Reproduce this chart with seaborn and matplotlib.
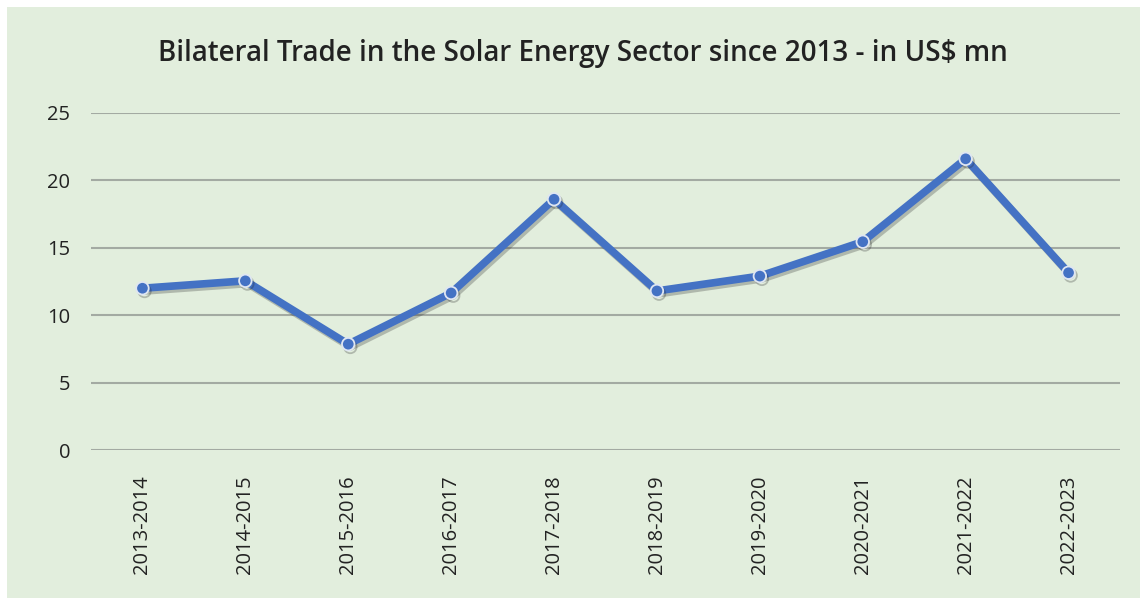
import numpy as np
import pandas as pd
import matplotlib.pyplot as plt
import matplotlib.patheffects as pe
from matplotlib.patches import Rectangle
import seaborn as sns

# data
years = ['2013-2014', '2014-2015', '2015-2016', '2016-2017', '2017-2018',
         '2018-2019', '2019-2020', '2020-2021', '2021-2022', '2022-2023']
trade = [12.0, 12.55, 7.85, 11.65, 18.6, 11.8, 12.9, 15.45, 21.6, 13.15]
y_ticks = [0, 5, 10, 15, 20, 25]

df = pd.DataFrame({'year': years, 'trade': trade})

sns.set_theme(style='white')
plt.rcParams['font.family'] = ['Open Sans', 'DejaVu Sans']

fig = plt.figure(figsize=(11.44, 6), dpi=100)
bg = '#e2eedd'
# green panel behind the chart
fig.patches.append(Rectangle((7 / 1144, 2 / 600), 1133 / 1144, 591 / 600,
                             transform=fig.transFigure, facecolor=bg,
                             edgecolor='none', zorder=-1))

ax = fig.add_axes([91 / 1144, 150 / 600, 1029 / 1144, 337 / 600])
ax.set_facecolor('none')

line_col = '#4472c4'
sns.lineplot(data=df, x='year', y='trade', ax=ax, color=line_col,
             linewidth=5.5, marker='o', markersize=9,
             markerfacecolor=line_col, markeredgecolor='#dfe6f2',
             markeredgewidth=1.3, sort=False,
             path_effects=[pe.SimpleLineShadow(offset=(1.5, -2), alpha=0.25),
                           pe.Normal()])

ax.set_xlim(-0.5, len(years) - 0.5)
ax.set_ylim(0, 25)
ax.set_yticks(y_ticks)
ax.yaxis.grid(True, color='#a3aaa2', linewidth=1.5)
ax.set_axisbelow(True)
for s in ax.spines.values():
    s.set_visible(False)
ax.tick_params(axis='x', labelrotation=90, labelsize=14.5, colors='#222222', pad=18, length=0)
ax.tick_params(axis='y', labelsize=14.5, colors='#222222', pad=15, length=0)
ax.set_xlabel('')
ax.set_ylabel('')

fig.text(583 / 1144, 1 - 53 / 600,
         'Bilateral Trade in the Solar Energy Sector since 2013 - in US$ mn',
         ha='center', va='center', fontsize=20, color='#222222',
         fontweight='semibold')

fig.savefig('out.png', dpi=100, facecolor='white')
